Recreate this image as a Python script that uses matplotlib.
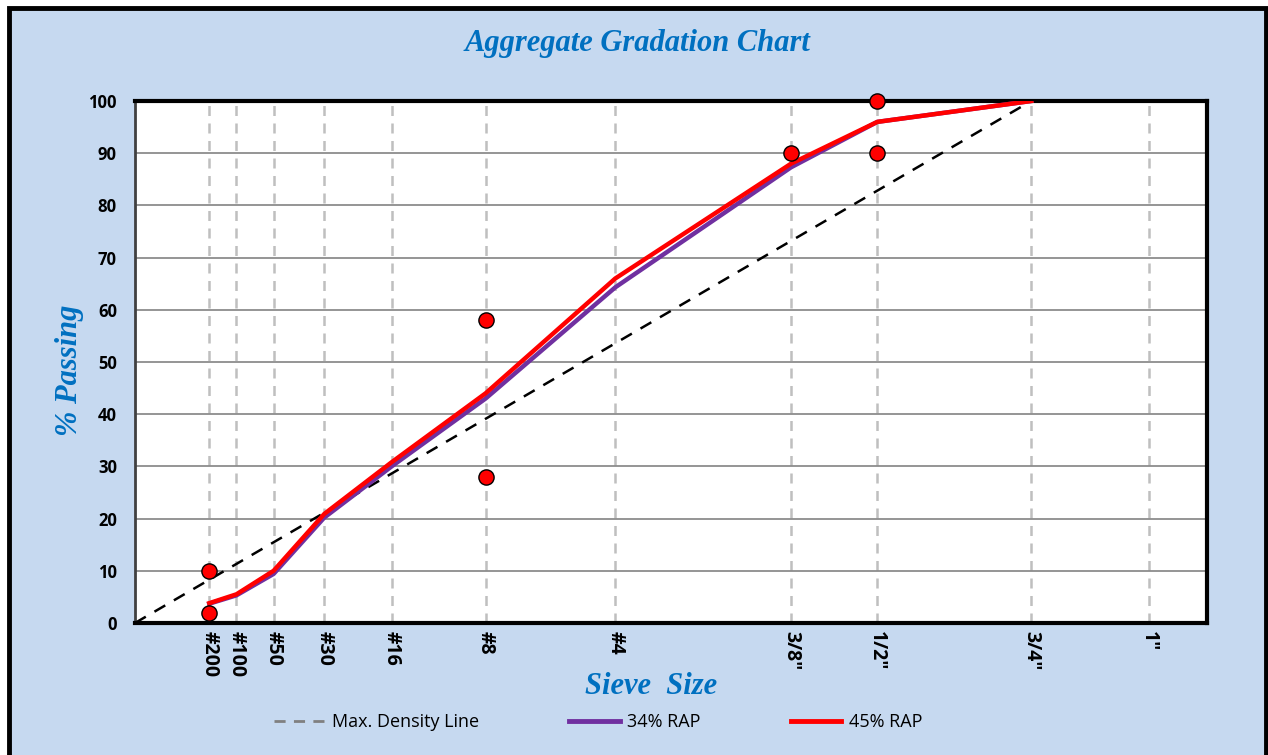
import numpy as np
import matplotlib.pyplot as plt
from matplotlib.patches import Rectangle
from matplotlib.lines import Line2D

# Tamices y aberturas (mm)
sieve_labels = ['#200', '#100', '#50', '#30', '#16', '#8', '#4', '3/8"', '1/2"', '3/4"', '1"']
sieve_mm = [0.075, 0.15, 0.3, 0.6, 1.18, 2.36, 4.75, 9.5, 12.5, 19.0, 25.0]

# Curvas de mezcla (% pasa) hasta 3/4"
mix_mm = [0.075, 0.15, 0.3, 0.6, 1.18, 2.36, 4.75, 9.5, 12.5, 19.0]
rap34 = [3.7, 5.3, 9.4, 20.2, 30.0, 43.0, 64.3, 87.3, 96.0, 100.0]
rap45 = [3.8, 5.5, 10.0, 20.9, 30.8, 44.0, 66.0, 88.0, 96.0, 100.0]

# Puntos de control
ctrl_mm = [0.075, 0.075, 2.36, 2.36, 9.5, 12.5, 12.5]
ctrl_pass = [2, 10, 28, 58, 90, 90, 100]

# Linea de maxima densidad
mdl_mm = [0.0, 19.0]
mdl_pass = [0, 100]

EXP = 0.45
def xs(mm):
    return np.power(np.array(mm, dtype=float), EXP)

bg = '#C6D9F0'
blue = '#0070C0'
fig = plt.figure(figsize=(12.68, 7.55), dpi=100, facecolor='white')
fig.patches.append(Rectangle((9 / 1268, -0.02), (1266 - 9) / 1268, 0.02 + 1 - 8 / 755,
                             transform=fig.transFigure, facecolor=bg,
                             edgecolor='black', linewidth=3.5, zorder=-10))

ax = fig.add_axes([135 / 1268, 1 - 623 / 755, (1207 - 135) / 1268, (623 - 101) / 755])
ax.set_facecolor('white')

ax.plot(xs(mdl_mm), mdl_pass, color='black', linestyle=(0, (5, 4)), linewidth=1.8, zorder=3)
ax.plot(xs(mix_mm), rap34, color='#7030A0', linewidth=3.2, zorder=4)
ax.plot(xs(mix_mm), rap45, color='#FF0000', linewidth=3.2, zorder=5)
ax.scatter(xs(ctrl_mm), ctrl_pass, s=120, color='#FF0000', edgecolor='black',
           linewidth=1.0, zorder=6, clip_on=False)

ax.set_xlim(0, 4.5)
ax.set_ylim(0, 100)
ax.set_yticks(np.arange(0, 101, 10))
ax.set_xticks(xs(sieve_mm))
ax.set_xticklabels(sieve_labels, rotation=270, fontsize=14, fontweight='bold',
                   family='Open Sans')
for lab in ax.get_yticklabels():
    lab.set_fontsize(12)
    lab.set_fontweight('bold')
    lab.set_family('Open Sans')
ax.tick_params(axis='both', length=0)
ax.tick_params(axis='y', pad=13)
ax.tick_params(axis='x', pad=6)

ax.grid(axis='y', color='#8C8C8C', linewidth=1.3, linestyle='-')
ax.grid(axis='x', color='#BFBFBF', linewidth=1.8, linestyle=(0, (4, 3)))
ax.set_axisbelow(True)
for side in ['left', 'bottom', 'top', 'right']:
    ax.spines[side].set_linewidth(3)
    ax.spines[side].set_color('black')
ax.spines['left'].set_linewidth(2)
ax.spines['left'].set_color('#404040')

fig.text(638 / 1268, 1 - 43 / 755, 'Aggregate Gradation Chart', ha='center', va='center',
         fontsize=22, fontweight='bold', fontstyle='italic', family='Liberation Serif', color=blue)
fig.text(70 / 1268, 1 - 370 / 755, '% Passing', ha='center', va='center', rotation=90,
         fontsize=22, fontweight='bold', fontstyle='italic', family='Liberation Serif', color=blue)
fig.text(651 / 1268, 1 - 686 / 755, 'Sieve  Size', ha='center', va='center',
         fontsize=22, fontweight='bold', fontstyle='italic', family='Liberation Serif', color=blue)

handles = [Line2D([], [], color='#808080', linestyle=(0, (4, 3)), linewidth=2),
           Line2D([], [], color='#7030A0', linewidth=3.5),
           Line2D([], [], color='#FF0000', linewidth=3.5)]
fig.legend(handles, ['Max. Density Line', '34% RAP', '45% RAP'], loc='center',
           bbox_to_anchor=(598 / 1268, 1 - 722 / 755), ncol=3, frameon=False,
           handlelength=2.8, columnspacing=5, handletextpad=0.4,
           prop={'family': 'Open Sans', 'size': 13})

fig.savefig('out.png', dpi=100, facecolor=fig.get_facecolor())
